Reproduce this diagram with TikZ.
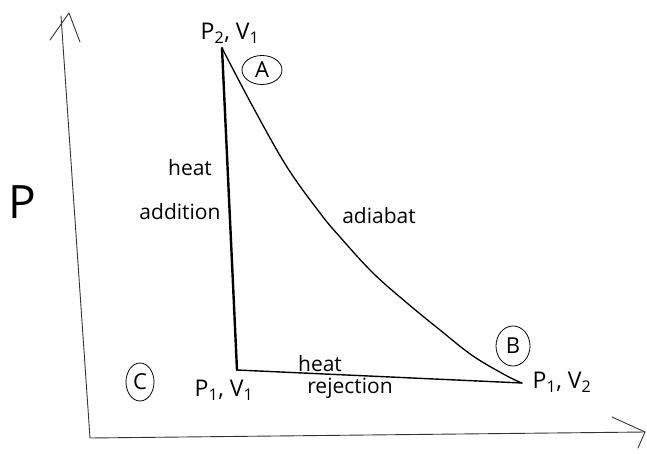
\documentclass[tikz,border=0pt]{standalone}
\usepackage{fontspec}
\setmainfont{Open Sans}
\usetikzlibrary{shapes.geometric}
\begin{document}
\begin{tikzpicture}[x=1pt,y=-1pt,
  axisline/.style={line width=0.9pt, black!80, line cap=round, line join=round},
  pathline/.style={line width=1.4pt, black, line cap=round},
  lbl/.style={inner sep=0pt, font=\fontsize{21}{21}\selectfont},
  statelbl/.style={inner sep=0pt, font=\fontsize{23}{23}\selectfont},
  circ/.style={ellipse, draw, line width=0.8pt, inner sep=0pt, font=\fontsize{22}{22}\selectfont}]
\useasboundingbox (0,0) rectangle (647,454);
% axes
\coordinate (o) at (90,438);
\coordinate (ytip) at (61,16);
\coordinate (xtip) at (645,432);
\coordinate (ya) at (69,13);
\coordinate (yl) at (50,40);
\coordinate (yr) at (80,42);
\coordinate (xa) at (612,417);
\coordinate (xb) at (638,448);
\draw[axisline] (ytip) -- (o) -- (xtip);
\draw[axisline] (yl) -- (ya) -- (yr);
\draw[axisline] (xa) -- (xtip) -- (xb);
% cycle corners
\coordinate (top) at (222,48);
\coordinate (c1) at (237,370);
\coordinate (b1) at (522,383);
\draw[line width=2.4pt, line cap=round] (top) -- (c1);
\draw[pathline] (c1) -- (b1);
\draw[line width=1.3pt, line cap=round] plot[smooth, tension=0.6] coordinates
  {(top) (253,107) (287,167) (320,213) (340,237) (373,273) (407,303) (440,330) (473,356) (507,376) (b1)};
% labels
\node[font=\fontsize{46}{46}\selectfont, inner sep=0pt] (plbl) at (22,202) {P};
\node[statelbl] (s2) at (230,33) {P\textsubscript{2}, V\textsubscript{1}};
\node[circ, minimum width=40pt, minimum height=29pt] (A) at (262,70) {A};
\node[lbl] (ha) at (190,168) {heat};
\node[lbl] (ad) at (180,212) {addition};
\node[lbl] (adb) at (379,216) {adiabat};
\node[circ, minimum width=34pt, minimum height=40pt] (B) at (513,346) {B};
\node[statelbl] (s3) at (562,382) {P\textsubscript{1}, V\textsubscript{2}};
\node[circ, minimum width=28pt, minimum height=38pt] (C) at (140,382) {C};
\node[statelbl] (s1) at (224,390) {P\textsubscript{1}, V\textsubscript{1}};
\node[lbl] (hr) at (320,364) {heat};
\node[lbl] (rj) at (350,388) {rejection};
\end{tikzpicture}
\end{document}
